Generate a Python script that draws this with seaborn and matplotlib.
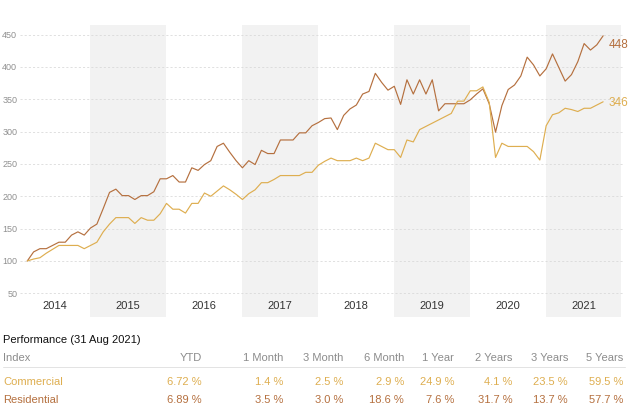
import matplotlib
matplotlib.use("Agg")
import matplotlib.pyplot as plt
import numpy as np
import pandas as pd
import seaborn as sns

# monthly index values, Jan 2014 .. Aug 2021
residential = [100, 114, 119, 119, 124, 129, 129, 140, 145, 140, 151, 157,
               181, 206, 211, 201, 201, 195, 201, 201, 207, 227, 227, 232,
               222, 222, 244, 240, 249, 255, 277, 282, 268, 255, 244, 255,
               249, 271, 266, 266, 287, 287, 287, 298, 298, 309, 314, 320,
               321, 303, 325, 335, 341, 358, 362, 390, 376, 364, 370, 342,
               380, 358, 380, 358, 380, 332, 343, 343, 343, 343, 349, 358,
               366, 343, 299, 340, 365, 372, 386, 415, 403, 386, 397, 420,
               399, 378, 388, 408, 436, 426, 434, 448]
commercial = [100, 103, 105, 112, 118, 124, 124, 124, 124, 119, 124, 129,
              145, 157, 167, 167, 167, 158, 167, 163, 163, 173, 189, 180,
              180, 174, 189, 189, 205, 200, 208, 216, 210, 203, 195, 204,
              210, 221, 221, 226, 232, 232, 232, 232, 237, 237, 248, 254,
              259, 255, 255, 255, 259, 255, 259, 282, 277, 272, 272, 260,
              287, 284, 303, 308, 313, 318, 323, 328, 347, 347, 363, 363,
              369, 345, 260, 282, 277, 277, 277, 277, 269, 256, 309, 326,
              329, 336, 334, 331, 336, 336, 341, 346]
years = [2014, 2015, 2016, 2017, 2018, 2019, 2020, 2021]

columns = ["YTD", "1 Month", "3 Month", "6 Month", "1 Year", "2 Years", "3 Years", "5 Years"]
commercial_perf = ["6.72 %", "1.4 %", "2.5 %", "2.9 %", "24.9 %", "4.1 %", "23.5 %", "59.5 %"]
residential_perf = ["6.89 %", "3.5 %", "3.0 %", "18.6 %", "7.6 %", "31.7 %", "13.7 %", "57.7 %"]

c_res = "#b5703f"
c_com = "#deae50"

sns.set_style("white")
plt.rcParams["font.family"] = ["Liberation Sans", "DejaVu Sans"]

months = np.arange(len(residential))
df = pd.DataFrame({
    "month": np.concatenate([months, months]),
    "value": residential + commercial,
    "series": ["Residential"] * len(months) + ["Commercial"] * len(months),
})

fig = plt.figure(figsize=(6.3, 4.12), dpi=100)
ax = fig.add_axes([20 / 630, 95 / 412, 604 / 630, 292 / 412])

x0, x1 = -1.15, 94.3
for k, yr in enumerate(years):
    a = (yr - 2014) * 12 - 2.1
    b = a + 12
    if k % 2 == 1:
        ax.axvspan(a, b, color="#f2f2f2", zorder=0, lw=0)
    ax.text((max(a, x0) + min(b, x1)) / 2, 31, str(yr), ha="center", va="center",
            fontsize=8, color="#333333")

sns.lineplot(data=df, x="month", y="value", hue="series",
             palette={"Residential": c_res, "Commercial": c_com},
             legend=False, linewidth=0.85, ax=ax, zorder=3)

ax.annotate(str(residential[-1]), (months[-1], residential[-1]), xytext=(4, -6.5),
            textcoords="offset points", ha="left", va="center", fontsize=8.5, color=c_res)
ax.annotate(str(commercial[-1]), (months[-1], commercial[-1]), xytext=(4, -1.2),
            textcoords="offset points", ha="left", va="center", fontsize=8.5, color=c_com)

ax.set_xlim(x0, x1)
ax.set_ylim(13.4, 464.7)
ax.set_yticks(range(50, 451, 50))
ax.set_xticks([])
ax.set_xlabel("")
ax.set_ylabel("")
ax.tick_params(axis="y", length=0, pad=2, labelsize=6.5, labelcolor="#909090")
ax.yaxis.grid(True, color="#dadada", linestyle=(0, (2.5, 2.5)), linewidth=0.6)
ax.set_axisbelow(True)
sns.despine(ax=ax, left=True, bottom=True)

# performance table
fig.text(3 / 630, 1 - 343 / 412, "Performance (31 Aug 2021)", fontsize=8, color="#111111", va="baseline")
fig.text(3 / 630, 1 - 360.7 / 412, "Index", fontsize=8, color="#8c8c8c", va="baseline")
fig.text(3 / 630, 1 - 385 / 412, "Commercial", fontsize=8, color=c_com, va="baseline")
fig.text(3 / 630, 1 - 403.3 / 412, "Residential", fontsize=8, color=c_res, va="baseline")
col_right = [202, 283.7, 343, 404, 454, 512.7, 568, 623.3]
for xr, h, cv, rv in zip(col_right, columns, commercial_perf, residential_perf):
    fig.text(xr / 630, 1 - 360.7 / 412, h, fontsize=8, color="#8c8c8c", ha="right", va="baseline")
    fig.text(xr / 630, 1 - 385 / 412, cv, fontsize=8, color=c_com, ha="right", va="baseline")
    fig.text(xr / 630, 1 - 403.3 / 412, rv, fontsize=8, color=c_res, ha="right", va="baseline")
fig.add_artist(plt.Line2D([3 / 630, 625 / 630], [1 - 367.3 / 412] * 2, color="#e3e3e3", lw=0.7))

fig.savefig("out.png", dpi=100)
